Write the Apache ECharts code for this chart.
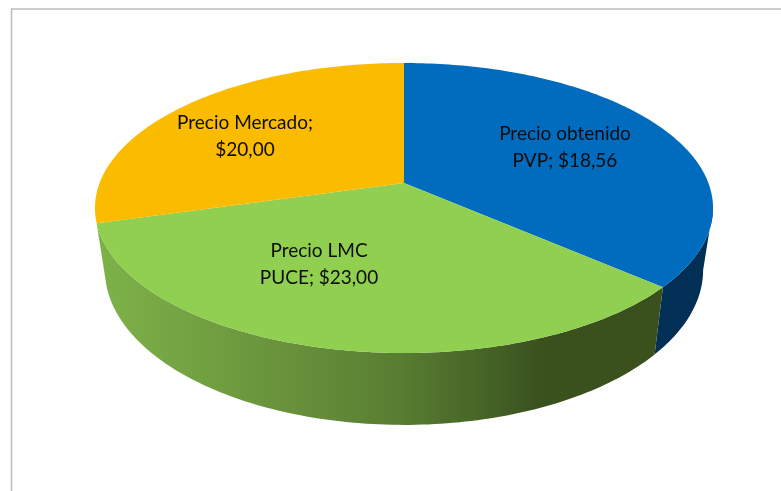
<!DOCTYPE html>
<html>
<head>
<meta charset="utf-8">
<style>
  html, body { margin: 0; background: #fff; }
  #chart { width: 781px; height: 491px; }
</style>
<script src="https://cdn.jsdelivr.net/npm/echarts@6/dist/echarts.min.js"></script>
</head>
<body>
<div id="chart"></div>
<script>
// label text as printed on the picture
const categories = ['Precio obtenido\nPVP', 'Precio LMC\nPUCE', 'Precio Mercado']
const priceLabels = ['$18,56', '$23,00', '$20,00']
// wedge sizes (%), they don't follow the printed prices
const wedgeShares = [36.4, 34.2, 29.4]

const labelJoins = ['; ', '; ', ';\n']
const topFaceColors = ['#016cbe', '#90cf50', '#fbbc00']
const labelCenters = [[565, 147], [319, 264], [245, 136]]

// projection of the pie disc, apex is where the three wedges meet
const cx = 404
const apexY = 183
const radiusX = 304.4
const radiusY = 140.7
const tilt = 0.1724
// lower rim of the wall
const lowScaleX = 0.968
const lowScaleY = 1.07
const lowApexY = 243
const wallFrom = 100
const wallTo = 255
const ARC_STEP = 1

function project(deg, low) {
  const rad = deg * Math.PI / 180
  const u = Math.sin(rad)
  const v = -Math.cos(rad)
  const d = 1 - tilt * v
  const x = radiusX * u / d
  const y = radiusY * v / d
  if (low) {
    return [cx + lowScaleX * x, lowApexY + lowScaleY * y]
  }
  return [cx + x, apexY + y]
}

function arc(from, to, low) {
  const pts = []
  for (let a = from; a < to; a += ARC_STEP) {
    pts.push(project(a, low))
  }
  pts.push(project(to, low))
  return pts
}

function wallFill(index) {
  if (index === 0) {
    return '#012f55'
  }
  return {
    type: 'linear', global: true, x: 100, y: 0, x2: 660, y2: 0,
    colorStops: [
      { offset: 0, color: '#7db248' },
      { offset: 0.36, color: '#668f3a' },
      { offset: 0.54, color: '#587c31' },
      { offset: 0.71, color: '#436025' },
      { offset: 0.79, color: '#3a501d' },
      { offset: 1, color: '#3a501d' }
    ]
  }
}

const total = wedgeShares.reduce((a, b) => a + b, 0)

function renderWedge(params, api) {
  const i = params.dataIndex
  let before = 0
  for (let k = 0; k < i; k++) {
    before += wedgeShares[k]
  }
  const start = before / total * 360
  const end = start + api.value(0) / total * 360
  const children = []

  const wallA = Math.max(start, wallFrom)
  const wallB = Math.min(end, wallTo)
  if (wallB > wallA) {
    const wall = arc(wallA, wallB, false).concat(arc(wallA, wallB, true).reverse())
    children.push({
      type: 'polygon',
      shape: { points: wall },
      style: { fill: wallFill(i) },
      z2: 1
    })
  }

  children.push({
    type: 'polygon',
    shape: { points: [[cx, apexY]].concat(arc(start, end, false)) },
    style: { fill: topFaceColors[i] },
    z2: 2
  })

  children.push({
    type: 'text',
    x: labelCenters[i][0],
    y: labelCenters[i][1],
    style: {
      text: categories[i] + labelJoins[i] + priceLabels[i],
      font: '19px Lato',
      fill: '#0c0c0c',
      align: 'center',
      verticalAlign: 'middle',
      lineHeight: 27
    },
    z2: 5
  })
  return { type: 'group', children: children }
}

const chart = echarts.init(document.getElementById('chart'), null, { renderer: 'canvas' })
chart.setOption({
  animation: false,
  backgroundColor: '#fff',
  graphic: [{
    type: 'rect',
    shape: { x: 11.5, y: 9, width: 900, height: 700 },
    style: { fill: 'none', stroke: '#bcbcbc', lineWidth: 1.5 },
    silent: true
  }],
  series: [{
    type: 'custom',
    coordinateSystem: 'none',
    renderItem: renderWedge,
    data: wedgeShares.map(v => [v])
  }]
})
</script>
</body>
</html>
